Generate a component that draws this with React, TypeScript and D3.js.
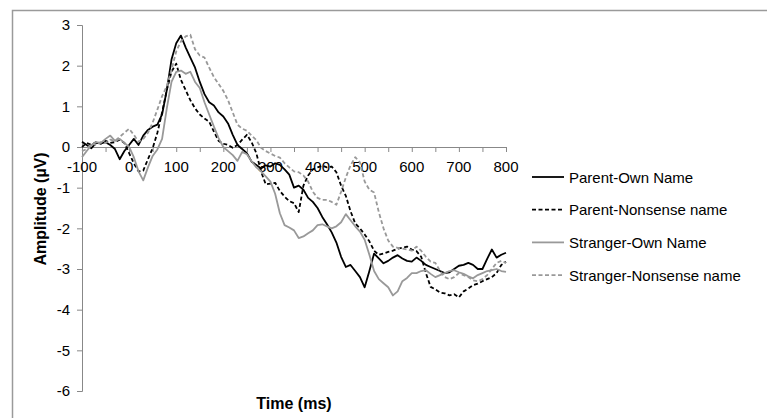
import React, { useRef, useEffect } from 'react';
import * as d3 from 'd3';

// time axis, every 10 ms from -100 to 800
const times = d3.range(-100, 801, 10);

const parentOwn = [
  0.13, 0.05, -0.03, 0.1, 0.09, 0.12, 0.05, -0.05, -0.3, -0.1,
  0.05, 0.2, 0.05, 0.28, 0.42, 0.5, 0.55, 0.8, 1.4, 2.15,
  2.55, 2.74, 2.45, 2.2, 1.95, 1.6, 1.3, 1.1, 1.02, 0.85,
  0.75, 0.58, 0.3, 0.05, -0.05, -0.15, -0.36, -0.44, -0.53, -0.45,
  -0.48, -0.4, -0.44, -0.55, -0.68, -1.0, -0.95, -1.05, -1.25, -1.35,
  -1.5, -1.72, -1.9, -2.1, -2.35, -2.7, -2.95, -2.9, -3.05, -3.2,
  -3.45, -3.05, -2.62, -2.74, -2.86, -2.8, -2.72, -2.66, -2.74, -2.8,
  -2.82, -2.72, -2.8, -2.9, -2.95, -3.0, -3.05, -3.1, -3.08, -3.0,
  -2.92, -2.9, -2.85, -2.9, -3.0, -3.0, -2.75, -2.52, -2.72, -2.65,
  -2.6,
];

const parentNonsense = [
  0.0, 0.1, 0.05, 0.12, 0.08, 0.15, 0.1, 0.12, 0.18, 0.1,
  -0.15, -0.4, -0.6, -0.58, -0.3, -0.03, 0.35, 0.85, 1.4, 1.85,
  2.05, 1.65, 1.4, 1.15, 0.95, 0.8, 0.7, 0.62, 0.38, 0.15,
  0.08, 0.05, -0.02, 0.05, 0.18, 0.3, 0.12, -0.15, -0.6, -0.92,
  -0.9, -0.88, -1.08, -1.22, -1.33, -1.38, -1.6, -0.95, -0.7, -0.55,
  -0.5, -0.46, -0.5, -0.48, -0.62, -0.95, -1.2, -1.58, -1.88, -2.0,
  -2.15, -2.32, -2.55, -2.65, -2.62, -2.58, -2.55, -2.5, -2.48, -2.45,
  -2.52, -2.56, -2.7, -3.1, -3.44, -3.5, -3.58, -3.6, -3.65, -3.62,
  -3.7, -3.55, -3.48, -3.4, -3.36, -3.3, -3.25, -3.2, -3.1, -2.9,
  -2.82,
];

const strangerOwn = [
  -0.25, -0.1, 0.05, 0.12, 0.1, 0.2, 0.28, 0.15, 0.2, 0.1,
  0.0, -0.25, -0.6, -0.82, -0.5, -0.22, -0.06, 0.2, 0.95, 1.6,
  1.85, 1.88, 1.8, 1.85, 1.6, 1.45, 1.1, 0.8, 0.5, 0.22,
  0.0, -0.1, -0.2, -0.34, -0.12, -0.18, -0.35, -0.5, -0.6, -0.72,
  -0.85, -1.15, -1.63, -1.92, -1.98, -2.05, -2.24, -2.2, -2.12, -2.05,
  -1.92, -1.9, -1.95, -2.0, -1.95, -1.85, -1.65, -1.8, -1.95, -2.08,
  -2.28, -2.65, -3.05, -3.25, -3.35, -3.45, -3.65, -3.55, -3.3, -3.22,
  -3.1, -3.1, -3.05, -3.03, -3.12, -3.2, -3.15, -3.1, -3.05, -3.03,
  -3.08, -3.12, -3.18, -3.23, -3.15, -3.1, -3.05, -3.03, -3.0, -3.05,
  -3.07,
];

const strangerNonsense = [
  -0.1, -0.05, 0.08, 0.05, 0.12, 0.1, 0.18, 0.15, 0.25, 0.35,
  0.45, 0.3, 0.13, 0.2, 0.35, 0.6, 0.92, 1.25, 1.5, 1.9,
  2.35, 2.6, 2.72, 2.76, 2.4, 2.25, 2.2, 1.95, 1.72, 1.55,
  1.38, 1.15, 0.85, 0.55, 0.45, 0.4, 0.28, 0.17, -0.02, -0.1,
  -0.16, -0.22, -0.26, -0.4, -0.5, -0.6, -0.62, -0.7, -0.85, -1.1,
  -1.25, -1.3, -1.3, -1.35, -1.42, -1.1, -0.75, -0.45, -0.25, -0.38,
  -0.85, -1.05, -1.12, -1.6, -2.0, -2.3, -2.45, -2.48, -2.5, -2.52,
  -2.55, -2.45, -2.55, -2.7, -2.82, -2.85, -3.05, -3.2, -3.25, -3.2,
  -3.1, -3.15, -3.2, -3.28, -3.3, -3.25, -3.15, -3.0, -2.85, -2.8,
  -2.85,
];

const seriesNames = ['Parent-Own Name', 'Parent-Nonsense name', 'Stranger-Own Name', 'Stranger-Nonsense name'];
const seriesValues = [parentOwn, parentNonsense, strangerOwn, strangerNonsense];
const seriesColors = ['#000000', '#000000', '#999999', '#999999'];
const seriesDash = [null, '4,2.5', null, '4,2.5'];

const xTickLabels = [-100, 0, 100, 200, 300, 400, 500, 600, 700, 800];
const yTickLabels = [3, 2, 1, 0, -1, -2, -3, -4, -5, -6];

const App = () => {
  const chartRef = useRef<SVGSVGElement>(null);

  useEffect(() => {
    const svg = d3.select(chartRef.current);
    svg.selectAll('*').remove();
    const width = 767;
    const height = 418;
    const font = 'Arial, "Liberation Sans", sans-serif';

    const x = d3.scaleLinear().domain([-100, 800]).range([82, 506]);
    const y = d3.scaleLinear().domain([-6, 3]).range([391, 25]);

    // frame (top and left only)
    svg.append('path')
      .attr('d', `M12.5,${height}V10.5H${width}`)
      .attr('fill', 'none')
      .attr('stroke', '#9a9a9a')
      .attr('stroke-width', 1.5);

    // y axis
    const yAxis = svg.append('g')
      .attr('transform', `translate(${x(-100)},0)`)
      .call(d3.axisLeft(y).tickValues(yTickLabels).tickSize(5).tickFormat(d => String(d)));
    yAxis.selectAll('line, path').attr('stroke', '#888');
    yAxis.selectAll('text')
      .attr('fill', '#000')
      .attr('font-family', font)
      .attr('font-size', 15)
      .attr('x', -12);

    // x axis along zero
    const xAxis = svg.append('g')
      .attr('transform', `translate(0,${y(0)})`)
      .call(d3.axisBottom(x).tickValues(d3.range(-100, 801, 50)).tickSize(5).tickSizeOuter(0).tickFormat(() => ''));
    xAxis.selectAll('line, path').attr('stroke', '#888');

    svg.append('g')
      .selectAll('text')
      .data(xTickLabels)
      .join('text')
      .attr('x', d => x(d))
      .attr('y', y(0) + 25)
      .attr('text-anchor', 'middle')
      .attr('font-family', font)
      .attr('font-size', 15)
      .text(d => String(d));

    // lines
    const line = d3.line<number>()
      .x((d, i) => x(times[i]))
      .y(d => y(d));

    seriesValues.forEach((vals, i) => {
      svg.append('path')
        .datum(vals)
        .attr('fill', 'none')
        .attr('stroke', seriesColors[i])
        .attr('stroke-width', 1.8)
        .attr('stroke-linejoin', 'round')
        .attr('stroke-dasharray', seriesDash[i])
        .attr('d', line);
    });

    // axis titles
    svg.append('text')
      .attr('transform', `translate(46,209) rotate(-90)`)
      .attr('text-anchor', 'middle')
      .attr('font-family', font)
      .attr('font-weight', 'bold')
      .attr('font-size', 16)
      .text('Amplitude (µV)');

    svg.append('text')
      .attr('x', 294)
      .attr('y', 409)
      .attr('text-anchor', 'middle')
      .attr('font-family', font)
      .attr('font-weight', 'bold')
      .attr('font-size', 16)
      .text('Time (ms)');

    // legend
    const legend = svg.append('g');
    seriesNames.forEach((name, i) => {
      const cy = 177 + i * 32.7;
      legend.append('line')
        .attr('x1', 532).attr('x2', 564)
        .attr('y1', cy).attr('y2', cy)
        .attr('stroke', seriesColors[i])
        .attr('stroke-width', 1.8)
        .attr('stroke-dasharray', seriesDash[i]);
      legend.append('text')
        .attr('x', 569)
        .attr('y', cy + 5.5)
        .attr('font-family', font)
        .attr('font-size', 15)
        .text(name);
    });
  }, []);

  return (
    <svg
      ref={chartRef}
      width={767}
      height={418}
      style={{ position: 'absolute', left: 0, top: 0, background: '#fff' }}
    />
  );
};

export default App;
